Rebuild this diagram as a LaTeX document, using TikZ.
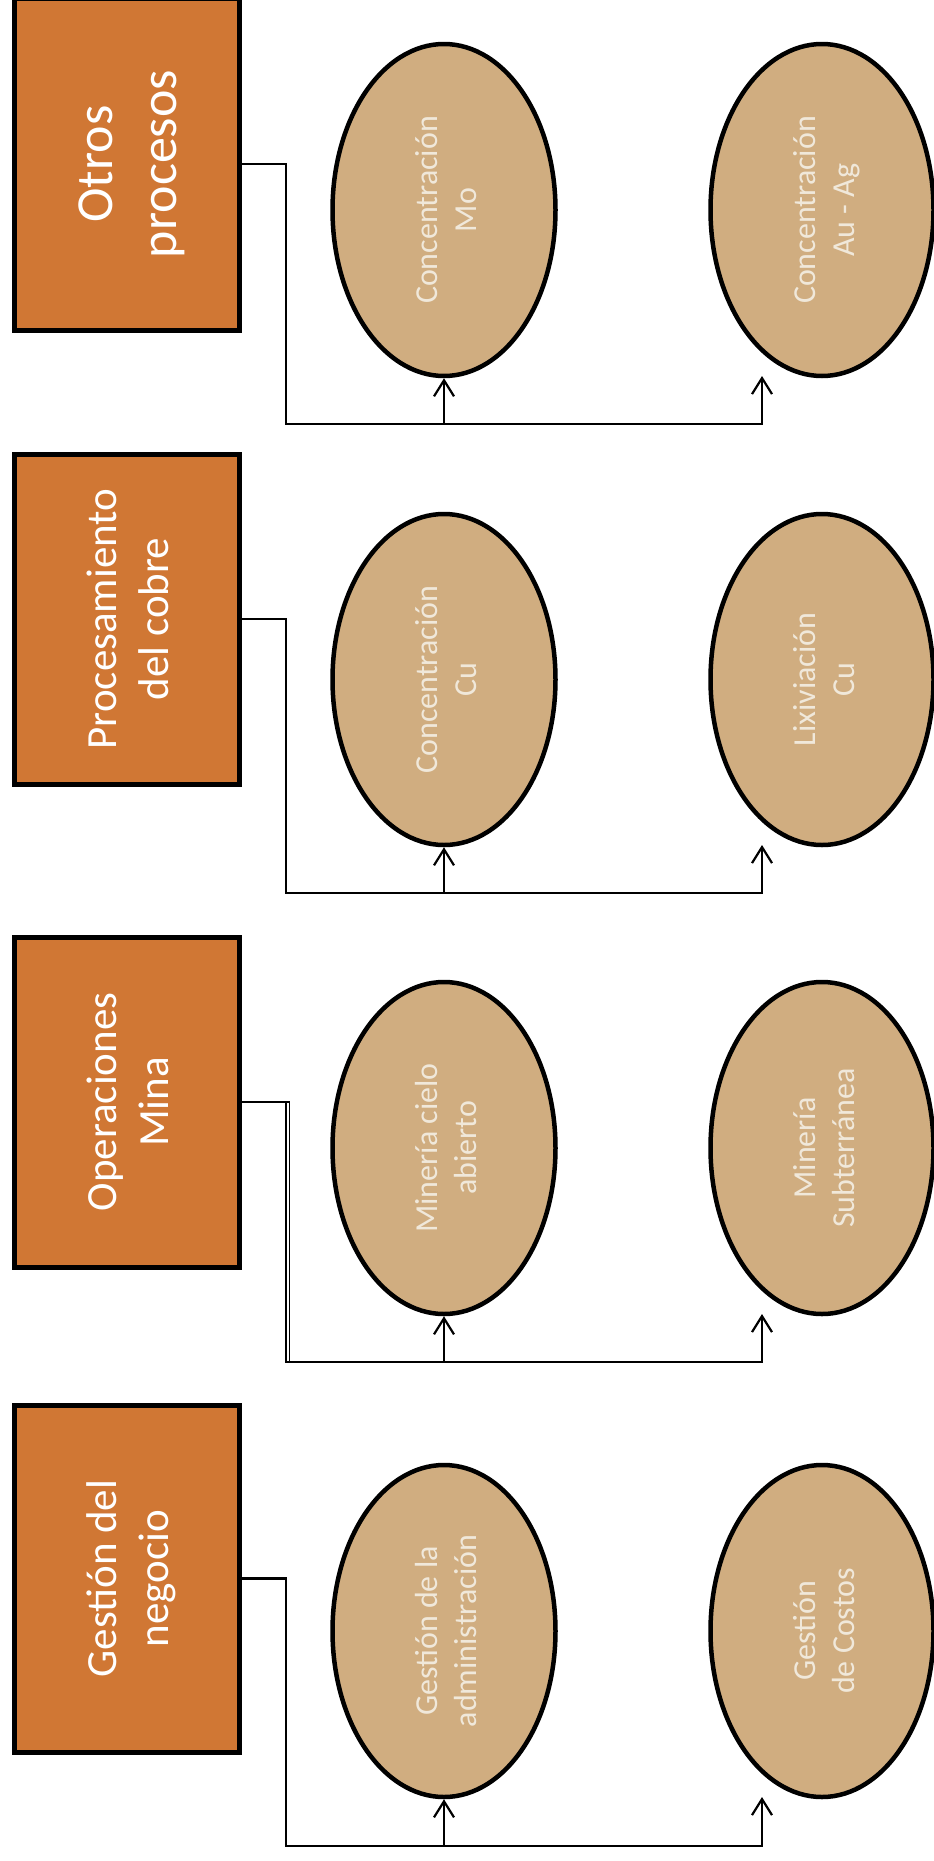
\documentclass[tikz,border=0pt]{standalone}
\usepackage{fontspec}
\setmainfont{Carlito}
\usetikzlibrary{arrows.meta,shapes.geometric}
\definecolor{boxfill}{HTML}{D07734}
\definecolor{ovalfill}{HTML}{D0AD80}
\definecolor{ovaltext}{HTML}{F0E8DA}
% rotated two-line text, nudged 5pt to the right on the page
\newcommand{\vtext}[1]{\rotatebox{90}{\raisebox{0pt}[\dimexpr\height+10pt\relax][\depth]{\begin{tabular}{@{}c@{}}#1\end{tabular}}}}
\tikzset{
  procbox/.style={rectangle, draw=black, line width=5pt, fill=boxfill, minimum width=225pt, inner sep=0pt, text=white, font=\fontsize{43}{52.5}\selectfont},
  bigtext/.style={font=\fontsize{52}{64}\selectfont},
  oval/.style={ellipse, draw=black, line width=4.5pt, fill=ovalfill, minimum width=223pt, minimum height=332pt, inner sep=0pt, text=ovaltext, font=\fontsize{32}{39}\selectfont},
  conn/.style={draw=black, line width=2.2pt},
  arr/.style={conn, -{Straight Barb[length=16pt, width=20pt]}}
}
\begin{document}
\begin{tikzpicture}[x=1pt, y=-1pt]
\useasboundingbox (0,0) rectangle (934,1861);
\fill[white] (0,0) rectangle (934,1861);

% ---------- Group 1 ----------
\node[procbox, bigtext, minimum height=332pt] (b1) at (127,164) {\vtext{Otros\\procesos}};
\node[oval] (e11) at (444,210) {\vtext{Concentración\\Mo}};
\node[oval] (e12) at (822,210) {\vtext{Concentración\\Au - Ag}};
\coordinate (k1) at (286,424);
\coordinate (t12) at (762,376);
\draw[arr] (b1.east) -| (k1) -| (t12);
\draw[arr] (e11.south |- k1) -- (e11.south);

% ---------- Group 2 ----------
\node[procbox, minimum height=330pt] (b2) at (127,619) {\vtext{Procesamiento\\del cobre}};
\node[oval, minimum height=331pt] (e21) at (444,679.5) {\vtext{Concentración\\Cu}};
\node[oval, minimum height=331pt] (e22) at (822,679.5) {\vtext{Lixiviación\\Cu}};
\coordinate (k2) at (286,893);
\coordinate (t22) at (762,845);
\draw[arr] (b2.east) -| (k2) -| (t22);
\draw[arr] (e21.south |- k2) -- (e21.south);

% ---------- Group 3 ----------
\node[procbox, minimum height=330pt] (b3) at (127,1102) {\vtext{Operaciones\\Mina}};
\node[oval] (e31) at (444,1148) {\vtext{Minería cielo\\abierto}};
\node[oval] (e32) at (822,1148) {\vtext{Minería\\Subterránea}};
\coordinate (k3) at (286,1362);
\coordinate (k3b) at (289.5,1362);
\coordinate (t32) at (762,1314);
\draw[conn, line width=1.3pt] (b3.east) -| (k3b);
\draw[arr] (b3.east) -| (k3) -| (t32);
\draw[arr] (e31.south |- k3) -- (e31.south);

% ---------- Group 4 ----------
\node[procbox, minimum height=347pt] (b4) at (127,1578.5) {\vtext{Gestión del\\negocio}};
\node[oval] (e41) at (444,1631) {\vtext{Gestión de la\\administración}};
\node[oval] (e42) at (822,1631) {\vtext{Gestión\\de Costos}};
\coordinate (k4) at (286,1846);
\coordinate (t42) at (762,1797);
\draw[arr] (b4.east) -| (k4) -| (t42);
\draw[arr] (e41.south |- k4) -- (e41.south);
\end{tikzpicture}
\end{document}
